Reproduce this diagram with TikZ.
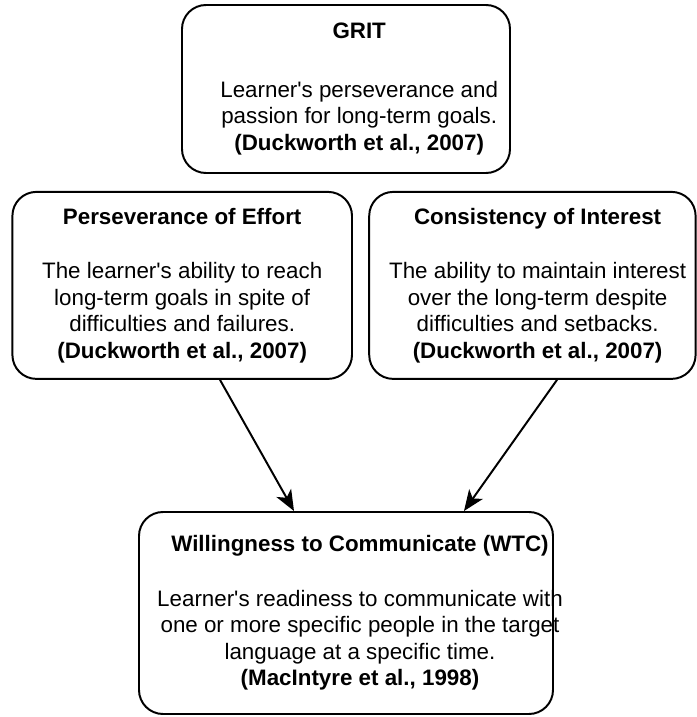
\documentclass[tikz,border=0pt]{standalone}
\usepackage{fontspec}
\setmainfont{Liberation Sans}
\usepackage{tikz}
\usetikzlibrary{arrows.meta}

\tikzset{
  concept/.style={draw, line width=1.4pt, rounded corners=0.6cm, inner sep=0pt},
  blurb/.style={align=center, inner sep=0pt, font=\fontsize{15.9}{18.8}\selectfont},
  link/.style={-{Stealth[length=0.52cm, width=0.42cm, inset=0.14cm]}, line width=1.4pt}
}
% title of a box, with the gap before its description
\newcommand{\conceptname}[2][0.71cm]{\textbf{#2}\\[#1]}

\begin{document}
\begin{tikzpicture}
            \useasboundingbox (0,0) rectangle (17.4,17.925);
            % top box
            \node[concept, minimum width=8.2cm, minimum height=4.2cm] (grit) at (8.65,15.7) {};
            \node[blurb] (gritText) at ([xshift=0.33cm]grit.center)
              {\conceptname[0.81cm]{GRIT}Learner\textquotesingle s perseverance and\\passion for long-term goals.\\\textbf{(Duckworth et al., 2007)}};
            % the two facets of grit
            \node[concept, minimum width=8.49cm, minimum height=4.675cm] (effort) at (4.555,10.79) {};
            \node[blurb] (effortText) at (effort.center)
              {\conceptname{Perseverance of Effort}The learner\textquotesingle s ability to reach\\long-term goals in spite of\\difficulties and failures.\\\textbf{(Duckworth et al., 2007)}};
            \node[concept, minimum width=8.16cm, minimum height=4.675cm] (interest) at (13.31,10.79) {};
            \node[blurb] (interestText) at ([xshift=0.13cm]interest.center)
              {\conceptname{Consistency of Interest}The ability to maintain interest\\over the long-term despite\\difficulties and setbacks.\\\textbf{(Duckworth et al., 2007)}};
            % bottom box
            \node[concept, minimum width=10.35cm, minimum height=5.05cm] (wtc) at (8.65,2.6) {};
            \node[blurb] (wtcText) at ([xshift=0.35cm]wtc.center)
              {\conceptname{Willingness to Communicate (WTC)}Learner\textquotesingle s readiness to communicate with\\one or more specific people in the target\\language at a specific time.\\\textbf{(MacIntyre et al., 1998)}};
            \draw[link] ([xshift=0.945cm]effort.south) -- ([xshift=-1.3cm]wtc.north);
            \draw[link] ([xshift=0.615cm]interest.south) -- ([xshift=2.95cm]wtc.north);
          \end{tikzpicture}
\end{document}
